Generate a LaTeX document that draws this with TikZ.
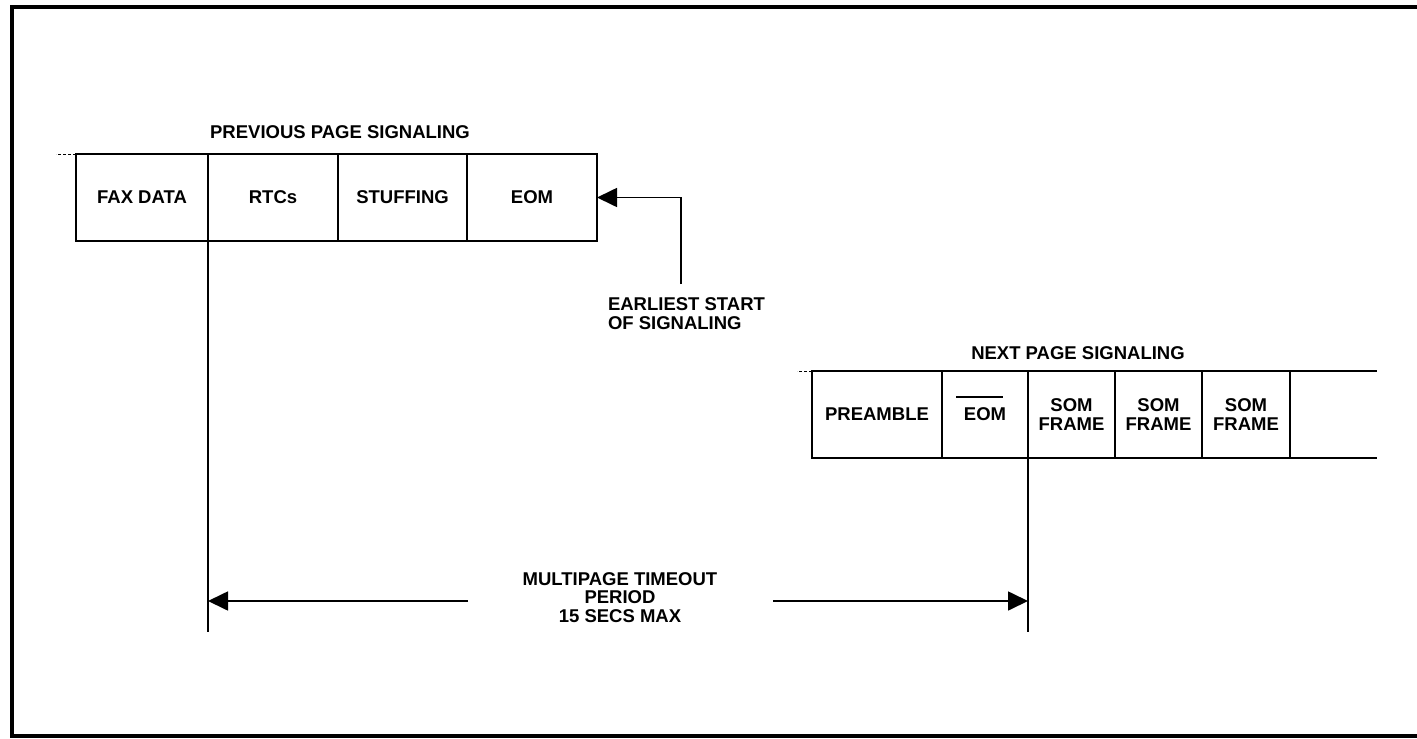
\documentclass[tikz,border=0pt]{standalone}
\usepackage{fontspec}
\setmainfont{Liberation Sans}
\usetikzlibrary{arrows.meta}
\tikzset{
  cell/.style={draw, line width=1.8pt, rectangle, inner sep=0pt, outer sep=0pt,
    minimum height=87pt, align=center, font=\lbl},
  lbltext/.style={inner sep=0pt, outer sep=0pt, font=\lbl},
  conn/.style={line width=1.7pt},
  tip/.style={-{Triangle[length=20pt,width=19pt]}},
  frameline/.style={line width=4pt},
  faint/.style={line width=1pt, dash pattern=on 3pt off 2pt}
}
\newcommand{\lbl}{\fontsize{18.5}{18.5}\selectfont\bfseries}
\begin{document}
\begin{tikzpicture}[x=1pt,y=-1pt]
\useasboundingbox (0,0) rectangle (1417,739);
\fill[white] (0,0) rectangle (1417,739);
% outer frame (open to the right)
\draw[frameline] (1430,7) -- (12,7) -- (12,736) -- (1430,736);

% previous page signaling
\node[lbltext] (prevlbl) at (340,132) {PREVIOUS PAGE SIGNALING};
\node[cell, minimum width=132pt] (fax) at (142,197.5) {FAX DATA};
\node[cell, minimum width=130pt] (rtc) at (273,197.5) {RTCs};
\node[cell, minimum width=129pt] (stuf) at (402.5,197.5) {STUFFING};
\node[cell, minimum width=130pt] (eom) at (532,197.5) {EOM};
\draw[faint] (fax.north west) -- ++(-20,0);

% earliest start
\node[lbltext, anchor=north west, align=left] (earl) at (608,298) {EARLIEST START\\OF SIGNALING};
\coordinate (estart) at (681,284);
\draw[conn, tip] (estart) |- (eom.east);

% next page signaling
\node[lbltext] (nextlbl) at (1078,353.5) {NEXT PAGE SIGNALING};
\node[cell, minimum width=130pt] (pre) at (877,414.5) {PREAMBLE};
\node[cell, minimum width=86pt] (eomb) at (985,414.5) {EOM};
\node[cell, minimum width=87pt] (som1) at (1071.5,414.5) {SOM\\FRAME};
\node[cell, minimum width=87pt] (som2) at (1158.5,414.5) {SOM\\FRAME};
\node[cell, minimum width=88pt] (som3) at (1246,414.5) {SOM\\FRAME};
\coordinate (openend) at (1377,0);
\draw[line width=1.8pt] (som3.north east) -- (som3.north east -| openend);
\draw[line width=1.8pt] (som3.south east) -- (som3.south east -| openend);
\draw[faint] (pre.north west) -- ++(-15,0);
\draw[line width=1.6pt] ([shift={(-29pt,17.5pt)}]eomb.center) -- ++(47,0);

% timeout
\coordinate (bot) at (0,632);
\draw[conn] (rtc.south west) -- (rtc.south west |- bot);
\draw[conn] (som1.south west) -- (som1.south west |- bot);
\node[lbltext, align=center] (tout) at (620,597.5) {MULTIPAGE TIMEOUT\\PERIOD\\15 SECS MAX};
\coordinate (tA) at (468,601);
\coordinate (tB) at (773,601);
\draw[conn, tip] (tA) -- (tA -| rtc.south west);
\draw[conn, tip] (tB) -- (tB -| som1.south west);
\end{tikzpicture}
\end{document}
